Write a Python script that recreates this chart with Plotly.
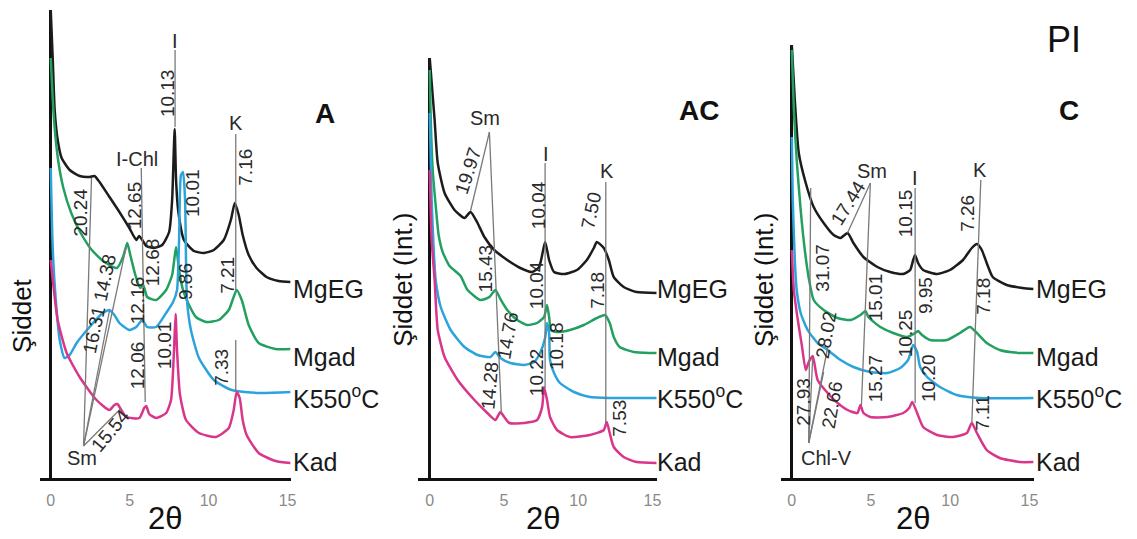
import plotly.graph_objects as go

W, H = 1137, 539
FONT = "Liberation Sans, Arial, sans-serif"

# ---------------- data: 2theta (deg) and intensity (arbitrary units) ----------------
series_names = ["MgEG", "Mgad", "K550<sup>o</sup>C", "Kad"]
series_colors = ["#1c1c1c", "#22a060", "#2ba3dc", "#d9358a"]
ticks_2theta = [0, 5, 10, 15]

# Panel A
A_MgEG_x = [0, 0.13, 0.25, 0.44, 0.69, 1.2, 1.83, 2.46, 2.77, 3.09, 3.72, 4.35, 4.98, 5.42, 5.6, 5.8, 6.05, 6.55, 7.06, 7.5,
            7.69, 7.85, 7.94, 8.07, 8.44, 9.07, 9.7, 10.33, 10.96, 11.41, 11.66, 11.91, 12.16, 12.54, 13.04, 13.67, 14.43, 15.19]
A_MgEG_y = [468, 418, 368, 338, 320, 308, 302, 301, 302, 296, 281, 266, 250, 238, 242, 238, 232, 230, 233, 246,
            278, 349, 298, 268, 238, 227, 225, 228, 238, 258, 275, 263, 243, 223, 210, 201, 197, 196]
A_Mgad_x = [0, 0.2, 0.45, 0.8, 1.3, 1.9, 2.6, 3.4, 4.2, 4.6, 4.85, 5.04, 5.36, 5.67, 5.86, 6.11, 6.68, 7.31, 7.69, 7.94,
            8.13, 8.38, 8.76, 9.2, 9.83, 10.65, 11.28, 11.78, 12.1, 12.54, 13.17, 14.24, 15.19]
A_Mgad_y = [420, 360, 320, 290, 265, 245, 228, 216, 210, 222, 235, 223, 203, 190, 193, 181, 178, 188, 203, 231,
            208, 188, 173, 161, 156, 158, 168, 188, 178, 153, 135, 129, 129]
A_K550_x = [0, 0.13, 0.32, 0.57, 0.88, 1.2, 1.64, 2.46, 3.28, 3.72, 4.03, 4.35, 4.98, 5.42, 5.8, 6.11, 6.68, 7.31, 7.75, 8.0,
            8.13, 8.25, 8.38, 8.51, 8.57, 8.63, 8.88, 9.39, 10.33, 11.47, 13.17, 15.19]
A_K550_y = [310, 228, 178, 138, 120, 123, 135, 151, 165, 168, 163, 155, 148, 151, 158, 151, 151, 165, 176, 188,
            238, 303, 306, 278, 218, 178, 148, 120, 98, 88, 85, 86]
A_Kad_x = [0, 0.13, 0.44, 1.01, 1.83, 2.9, 3.72, 4.03, 4.22, 4.47, 4.79, 5.61, 5.92, 6.05, 6.24, 6.68, 7.31, 7.62, 7.81, 7.91,
           8.0, 8.19, 8.57, 9.39, 10.46, 11.28, 11.59, 11.78, 11.97, 12.16, 12.41, 13.17, 14.24, 15.19]
A_Kad_y = [218, 198, 158, 125, 101, 78, 68, 73, 74, 68, 61, 60, 70, 72, 64, 60, 65, 78, 128, 164,
           128, 83, 58, 45, 41, 50, 68, 86, 80, 58, 43, 25, 17, 15]

# Panel AC
AC_MgEG_x = [0, 0.33, 0.54, 1.0, 1.67, 2.34, 2.75, 3.22, 3.68, 4.35, 5.22, 6.10, 6.90, 7.37, 7.77, 8.04, 8.37, 9.04, 9.91, 10.58,
             11.05, 11.25, 11.72, 12.06, 12.39, 13.06, 13.93, 15.27]
AC_MgEG_y = [420, 358, 315, 285, 268, 260, 266, 255, 241, 228, 218, 210, 206, 211, 236, 218, 206, 204, 208, 218,
             230, 236, 230, 218, 201, 191, 186, 185]
AC_Mgad_x = [0, 0.07, 0.2, 0.4, 0.6, 0.87, 1.34, 2.08, 2.55, 3.42, 4.02, 4.42, 4.76, 5.22, 5.89, 6.56, 7.23, 7.7, 7.9, 8.04,
             8.17, 8.57, 9.44, 10.38, 11.25, 11.79, 12.12, 12.39, 12.79, 13.73, 14.8, 15.27]
AC_Mgad_y = [408, 358, 308, 273, 243, 226, 212, 202, 188, 178, 181, 188, 179, 168, 158, 153, 155, 161, 173, 161,
             148, 146, 148, 153, 160, 163, 155, 141, 131, 126, 125, 125]
AC_K550_x = [0, 0.13, 0.27, 0.4, 0.74, 1.41, 2.34, 3.22, 4.09, 4.42, 4.76, 5.43, 6.36, 7.03, 7.43, 7.77, 7.9, 8.04, 8.1, 8.37,
             8.77, 9.71, 10.78, 12.12, 15.27]
AC_K550_y = [365, 278, 228, 198, 171, 148, 131, 123, 121, 126, 120, 115, 113, 116, 125, 140, 155, 145, 118, 105,
             95, 86, 81, 80, 80]
AC_Kad_x = [0, 0.13, 0.33, 0.54, 1.0, 1.88, 3.01, 3.88, 4.42, 4.76, 5.02, 5.36, 6.36, 7.23, 7.57, 7.7, 7.9, 8.1, 8.57, 9.44,
            10.78, 11.72, 11.92, 12.12, 12.39, 13.06, 13.93, 15.27]
AC_Kad_y = [308, 238, 198, 148, 121, 98, 78, 65, 58, 66, 61, 55, 55, 58, 71, 91, 78, 61, 48, 41,
            43, 48, 56, 45, 31, 21, 16, 15]

# Panel C
C_MgEG_x = [0, 0.19, 0.44, 0.88, 1.38, 2.01, 2.64, 3.08, 3.52, 3.89, 4.52, 5.40, 6.21, 7.03, 7.47, 7.66, 7.78, 7.97, 8.29, 9.17,
            9.98, 10.80, 11.36, 11.68, 11.99, 12.30, 12.68, 13.56, 14.56, 15.25]
C_MgEG_y = [433, 378, 325, 295, 271, 255, 243, 240, 245, 235, 221, 211, 206, 204, 208, 218, 223, 215, 208, 204,
            208, 218, 230, 234, 228, 215, 201, 193, 190, 189]
C_Mgad_x = [0, 0.13, 0.31, 0.56, 0.82, 1.07, 1.38, 2.01, 2.89, 3.70, 4.33, 4.65, 4.83, 5.59, 6.40, 7.28, 7.78, 7.97, 8.22, 8.73,
            9.79, 10.61, 11.24, 11.68, 12.30, 13.12, 14.38, 15.25]
C_Mgad_y = [428, 368, 318, 268, 228, 200, 178, 168, 160, 158, 163, 167, 161, 151, 145, 141, 145, 147, 143, 138,
            138, 145, 151, 145, 135, 128, 125, 125]
C_K550_x = [0, 0.06, 0.19, 0.31, 0.56, 1.0, 1.63, 2.26, 3.08, 3.89, 4.96, 6.03, 6.84, 7.34, 7.66, 7.91, 8.10, 8.54, 9.35, 10.42,
            11.86, 15.25]
C_K550_y = [341, 278, 218, 188, 165, 148, 135, 128, 118, 111, 106, 105, 110, 118, 133, 126, 111, 101, 91, 83,
            80, 80]
C_Kad_x = [0, 0.13, 0.38, 0.63, 0.88, 1.07, 1.32, 1.63, 2.26, 2.89, 3.52, 4.14, 4.33, 4.52, 4.96, 6.03, 7.03, 7.41, 7.60, 7.91,
           8.29, 9.17, 10.17, 11.05, 11.36, 11.68, 12.30, 13.12, 14.38, 15.25]
C_Kad_y = [228, 188, 158, 133, 108, 116, 122, 98, 85, 75, 68, 65, 73, 65, 61, 61, 65, 70, 76, 65,
           51, 43, 41, 45, 55, 45, 28, 20, 16, 16]

panels = [
    dict(xs=[A_MgEG_x, A_Mgad_x, A_K550_x, A_Kad_x], ys=[A_MgEG_y, A_Mgad_y, A_K550_y, A_Kad_y]),
    dict(xs=[AC_MgEG_x, AC_Mgad_x, AC_K550_x, AC_Kad_x], ys=[AC_MgEG_y, AC_Mgad_y, AC_K550_y, AC_Kad_y]),
    dict(xs=[C_MgEG_x, C_Mgad_x, C_K550_x, C_Kad_x], ys=[C_MgEG_y, C_Mgad_y, C_K550_y, C_Kad_y]),
]

# ---------------- layout geometry (pixels) ----------------
axis_bottom_px = 478
panel_geom = [  # x pixel of 2theta=0, px per degree, x-range, top pixel of vertical axis
    dict(x0=51, ppd=15.87, rng=[-0.7, 15.2], top=10),
    dict(x0=432, ppd=14.93, rng=[-0.8, 15.3], top=58),
    dict(x0=796, ppd=15.93, rng=[-0.7, 15.27], top=45),
]

fig = go.Figure()
layout = dict(width=W, height=H, margin=dict(l=0, r=0, t=0, b=0),
              paper_bgcolor="white", plot_bgcolor="white", showlegend=False)

for i, (p, g) in enumerate(zip(panels, panel_geom)):
    sfx = "" if i == 0 else str(i + 1)
    for xs, ys, name, col in zip(p["xs"], p["ys"], series_names, series_colors):
        fig.add_trace(go.Scatter(x=xs, y=ys, mode="lines", name=name,
                                 line=dict(color=col, width=2.5, shape="spline", smoothing=0.55),
                                 xaxis="x" + sfx, yaxis="y" + sfx, hoverinfo="skip"))
    left = g["x0"] + g["rng"][0] * g["ppd"]
    right = g["x0"] + g["rng"][1] * g["ppd"]
    layout["xaxis" + sfx] = dict(range=g["rng"], domain=[left / W, right / W], anchor="y" + sfx,
                                 showline=True, linecolor="#111", linewidth=3,
                                 zeroline=True, zerolinecolor="#111", zerolinewidth=3,
                                 showgrid=False, tickvals=ticks_2theta, ticks="",
                                 ticklabelstandoff=6,
                                 tickfont=dict(family=FONT, size=16, color="#8a8a8a"))
    layout["yaxis" + sfx] = dict(range=[0, axis_bottom_px - g["top"]],
                                 domain=[1 - axis_bottom_px / H, 1 - g["top"] / H], anchor="x" + sfx,
                                 showline=False, zeroline=False, showgrid=False, showticklabels=False)

annotations = []
shapes = []


def txt(x, y, s, size=19, angle=0, color="#2a2a2a", xanchor="center"):
    annotations.append(dict(x=x / W, y=1 - y / H, xref="paper", yref="paper", text=s, showarrow=False,
                            textangle=angle, xanchor=xanchor, yanchor="middle",
                            font=dict(family=FONT, size=size, color=color)))


def ln(x0, y0, x1, y1, color="#7a7a7a", width=1.3):
    shapes.append(dict(type="line", xref="paper", yref="paper", x0=x0 / W, y0=1 - y0 / H,
                       x1=x1 / W, y1=1 - y1 / H, line=dict(color=color, width=width)))


# ---- Panel A labels ----
txt(176, 41, "I", 20)
ln(176, 50, 176, 127)
txt(168, 93, "10.13", 19, -90)
txt(138, 159, "I-Chl", 20)
ln(142, 168, 146, 402)
txt(135, 205, "12.65", 19, -90)
txt(153, 262, "12.68", 19, -90)
txt(138, 300, "12.16", 19, -90)
txt(138, 365, "12.06", 19, -90)
txt(80, 213, "20.24", 19, -90)
ln(92, 178, 84, 446)
ln(84, 446, 110, 311)
ln(84, 446, 127, 246)
ln(84, 446, 122, 408)
txt(105, 277, "14.38", 19, -78)
txt(94, 330, "16.31", 19, -78)
txt(111, 430, "15.54", 19, -50)
txt(82, 458, "Sm", 20)
txt(193, 193, "10.01", 19, -90)
txt(186, 282, "9.86", 19, -90)
txt(165, 345, "10.01", 19, -90)
txt(237, 123, "K", 20)
ln(237, 134, 237, 290)
txt(247, 167, "7.16", 19, -90)
txt(228, 275, "7.21", 19, -90)
ln(237, 340, 237, 392)
txt(222, 367, "7.33", 19, -90)
txt(327, 113, "<b>A</b>", 28, color="#111")
txt(22, 316, "Şiddet", 26, -90, color="#111")
txt(166, 518, "2θ", 31, color="#111")

# ---- Panel AC labels ----
txt(488, 118, "Sm", 20)
ln(492, 132, 473, 211)
ln(492, 132, 504, 413)
txt(470, 171, "19.97", 19, -72)
txt(488, 268, "15.43", 19, -90)
txt(510, 335, "14.76", 19, -80)
txt(492, 385, "14.28", 19, -85)
txt(549, 154, "I", 20)
ln(548, 163, 548, 388)
txt(541, 205, "10.04", 19, -90)
txt(539, 285, "10.04", 19, -90)
txt(539, 372, "10.22", 19, -90)
txt(559, 346, "10.18", 19, -90)
txt(610, 171, "K", 20)
ln(609, 182, 609, 423)
txt(594, 210, "7.50", 19, -78)
txt(600, 290, "7.18", 19, -90)
txt(622, 418, "7.53", 19, -90)
txt(703, 110, "<b>AC</b>", 28, color="#111")
txt(405, 280, "Şiddet (Int.)", 26, -90, color="#111")
txt(546, 518, "2θ", 31, color="#111")

# ---- Panel C labels ----
txt(877, 171, "Sm", 20)
ln(875, 183, 852, 233)
ln(875, 183, 866, 405)
txt(852, 203, "17.44", 19, -58)
txt(881, 297, "15.01", 19, -90)
txt(880, 378, "15.27", 19, -90)
txt(920, 178, "I", 20)
ln(920, 188, 920, 403)
txt(910, 213, "10.15", 19, -90)
txt(930, 296, "9.95", 19, -90)
txt(910, 333, "10.25", 19, -90)
txt(933, 378, "10.20", 19, -90)
txt(985, 170, "K", 20)
ln(986, 180, 977, 423)
txt(972, 213, "7.26", 19, -90)
txt(988, 296, "7.18", 19, -90)
txt(987, 413, "7.11", 19, -90)
txt(826, 268, "31.07", 19, -90)
ln(815, 188, 813, 443)
txt(830, 335, "28.02", 19, -80)
ln(813, 443, 832, 348)
txt(807, 402, "27.93", 19, -90)
ln(813, 443, 817, 358)
txt(836, 405, "22.66", 19, -80)
ln(813, 443, 828, 372)
txt(831, 458, "Chl-V", 20)
txt(1070, 40, "PI", 36, color="#111")
txt(1075, 110, "<b>C</b>", 28, color="#111")
txt(768, 280, "Şiddet (Int.)", 26, -90, color="#111")
txt(918, 518, "2θ", 31, color="#111")

# ---- curve names at right end of each panel ----
label_x = [293, 658, 1039]
label_y = [289, 357, 397, 462]
for lx in label_x:
    for name, ly in zip(series_names, label_y):
        txt(lx, ly, name, 25, color="#1a1a1a", xanchor="left")

layout["annotations"] = annotations
layout["shapes"] = shapes
fig.update_layout(**layout)
fig.write_html("out.html")
